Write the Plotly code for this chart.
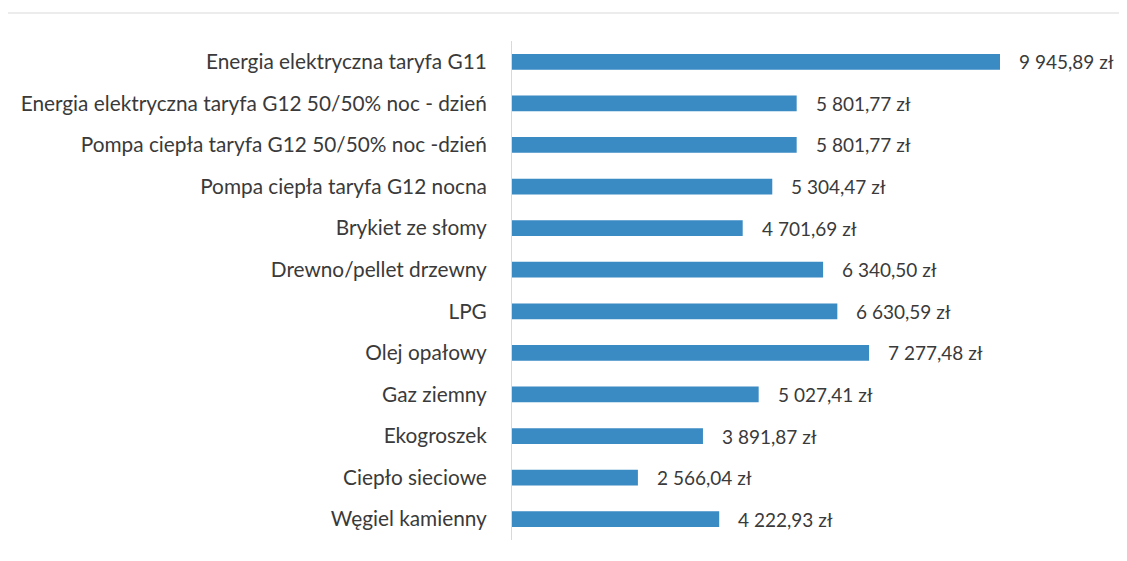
import plotly.graph_objects as go

categories = [
    "Energia elektryczna taryfa G11",
    "Energia elektryczna taryfa G12 50/50% noc - dzień",
    "Pompa ciepła taryfa G12 50/50% noc -dzień",
    "Pompa ciepła taryfa G12 nocna",
    "Brykiet ze słomy",
    "Drewno/pellet drzewny",
    "LPG",
    "Olej opałowy",
    "Gaz ziemny",
    "Ekogroszek",
    "Ciepło sieciowe",
    "Węgiel kamienny",
]
values = [9945.89, 5801.77, 5801.77, 5304.47, 4701.69, 6340.50, 6630.59,
          7277.48, 5027.41, 3891.87, 2566.04, 4222.93]


def fmt(v):
    s = f"{v:,.2f}"
    return s.replace(",", " ").replace(".", ",") + " zł"


labels = [fmt(v) for v in values]

FONT = "Lato"
TXT = "#3a3a3a"

fig = go.Figure()
fig.add_trace(go.Bar(
    y=categories, x=values, orientation="h",
    marker=dict(color="#3a8ac4", line=dict(width=0)),
    hoverinfo="skip",
))

for c, v, t in zip(categories, values, labels):
    fig.add_annotation(x=v, y=c, text=t, showarrow=False, xanchor="left",
                       xshift=17, font=dict(family=FONT, size=19, color=TXT))

PW, PH = 588, 499
fig.add_shape(type="rect", xref="paper", yref="paper",
              x0=-506 / PW, x1=(1125 - 512) / PW,
              y0=-40 / PH, y1=(540 - 13) / PH,
              line=dict(color="#d9d9d9", width=1), layer="below")

fig.update_layout(
    width=1127, height=561,
    margin=dict(l=504, r=35, t=33, b=29),
    paper_bgcolor="white", plot_bgcolor="white",
    bargap=0.62,
    showlegend=False,
    font=dict(family=FONT, size=20, color=TXT),
)
fig.update_xaxes(range=[0, 11984], visible=False, showgrid=False, zeroline=False)
fig.update_yaxes(autorange="reversed", showgrid=False, zeroline=False,
                 showline=True, linecolor="#d9d9d9", linewidth=1,
                 ticks="", ticklabelstandoff=20,
                 tickfont=dict(family=FONT, size=20.8, color=TXT))

fig.write_html("out.html")
